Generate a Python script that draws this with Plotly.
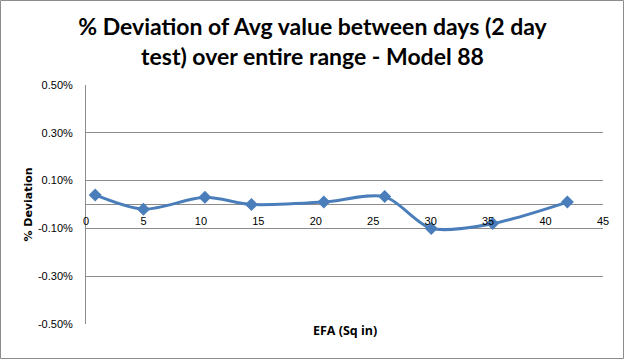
import plotly.graph_objects as go

efa = [0.8, 5.0, 10.35, 14.4, 20.7, 26.0, 30.05, 35.4, 41.9]
deviation = [0.0004, -0.0002, 0.0003, 0.0, 0.0001, 0.00033, -0.001, -0.0008, 0.0001]
y_tick_vals = [-0.005, -0.003, -0.001, 0.001, 0.003, 0.005]
y_tick_text = ["-0.50%", "-0.30%", "-0.10%", "0.10%", "0.30%", "0.50%"]
x_tick_vals = [0, 5, 10, 15, 20, 25, 30, 35, 40, 45]

W, H = 625, 360
L, R, T, B = 86, 22, 85, 36
pw, ph = W - L - R, H - T - B

fig = go.Figure()
fig.add_trace(go.Scatter(
    x=efa, y=deviation, mode="lines+markers",
    line=dict(color="#4a7ebb", width=3, shape="spline", smoothing=0.8),
    marker=dict(symbol="diamond", size=10, color="#4a7ebb"),
    showlegend=False,
))

fig.update_layout(
    width=W, height=H,
    margin=dict(l=L, r=R, t=T, b=B),
    paper_bgcolor="white", plot_bgcolor="white",
    title=dict(
        text="% Deviation of Avg value between days (2 day<br>test) over entire range - Model 88",
        x=0.5, xanchor="center", y=(H - 35) / H, yanchor="middle",
        font=dict(family="Lato", size=23, color="black", weight="bold"),
    ),
    xaxis=dict(
        range=[0, 45], tickvals=x_tick_vals, showgrid=False, zeroline=False,
        anchor="free", position=0.5, showline=False,
        ticks="", ticklabelstandoff=8,
        tickfont=dict(family="Liberation Sans", size=11, color="black"),
    ),
    yaxis=dict(
        range=[-0.005, 0.005], tickvals=y_tick_vals, ticktext=y_tick_text,
        showgrid=True, gridcolor="#8c8c8c", gridwidth=1,
        zeroline=True, zerolinecolor="#8c8c8c", zerolinewidth=1,
        showline=True, linecolor="#8c8c8c", linewidth=1,
        ticks="", ticklabelstandoff=10,
        tickfont=dict(family="Liberation Sans", size=11, color="black"),
        title=dict(text="<b>% Deviation</b>", standoff=3,
                   font=dict(family="DejaVu Sans", size=11, color="black")),
    ),
    annotations=[dict(
        text="<b>EFA (Sq in)</b>", xref="paper", yref="paper",
        x=0.5, y=-(330 - (T + ph)) / ph, xanchor="center", yanchor="middle",
        showarrow=False, font=dict(family="Open Sans", size=12.5, color="black"),
    )],
    shapes=[dict(
        type="rect", xref="paper", yref="paper",
        x0=-(L - 0.5) / pw, x1=1 + (R - 1.5) / pw,
        y0=-(B - 1.5) / ph, y1=1 + (T - 0.5) / ph,
        line=dict(color="#8c8c8c", width=1),
    )],
)

fig.write_html("out.html", config={"displayModeBar": False},
               post_script="document.body.style.margin='0';")
